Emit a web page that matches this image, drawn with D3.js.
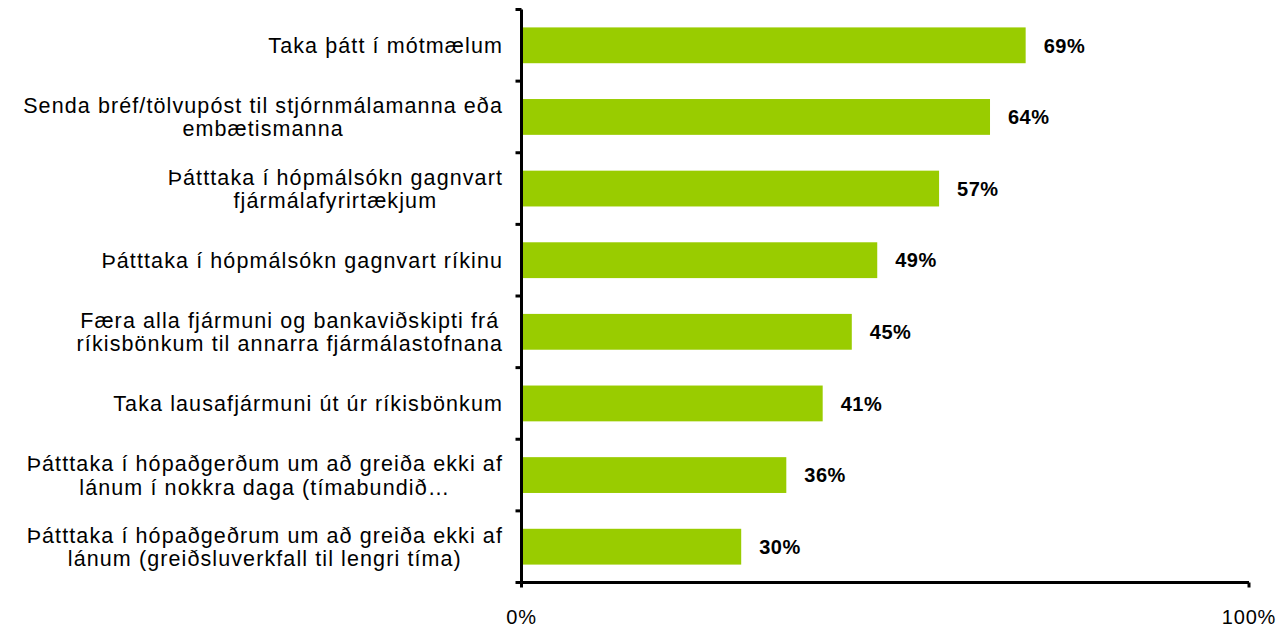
<!DOCTYPE html>
<html>
<head>
<meta charset="utf-8">
<script src="https://cdn.jsdelivr.net/npm/d3@7"></script>
<style>
body { margin: 0; background: #fff; }
text { font-family: "Liberation Sans", Arial, sans-serif; }
</style>
</head>
<body>
<div id="chart"></div>
<script>
// categories, each label split into its lines
var categories = [
    ["Taka þátt í mótmælum"],
    ["Senda bréf/tölvupóst til stjórnmálamanna eða", "embætismanna"],
    ["Þátttaka í hópmálsókn gagnvart", "fjármálafyrirtækjum"],
    ["Þátttaka í hópmálsókn gagnvart ríkinu"],
    ["Færa alla fjármuni og bankaviðskipti frá", "ríkisbönkum til annarra fjármálastofnana"],
    ["Taka lausafjármuni út úr ríkisbönkum"],
    ["Þátttaka í hópaðgerðum um að greiða ekki af", "lánum í nokkra daga (tímabundið…"],
    ["Þátttaka í hópaðgeðrum um að greiða ekki af", "lánum (greiðsluverkfall til lengri tíma)"]
];
var values = [0.693, 0.644, 0.574, 0.489, 0.454, 0.414, 0.364, 0.302];
var xTicks = [0, 1];
var xTickLabels = ["0%", "100%"];

var W = 1280, H = 628;
var mLeft = 521.5, mRight = 1249, mTop = 9.5, mBottom = 582.5;

var svg = d3.select("#chart").append("svg")
    .attr("width", W)
    .attr("height", H);

var x = d3.scaleLinear().domain([0, 1]).range([mLeft, mRight]);
var y = d3.scaleBand().domain(d3.range(categories.length)).range([mTop, mBottom]).paddingInner(0.5).paddingOuter(0.25);

// bars
svg.selectAll(".bar")
    .data(values)
    .enter()
    .append("rect")
    .attr("class", "bar")
    .attr("x", x(0) + 1.5)
    .attr("y", function(d, i){ return y(i); })
    .attr("width", function(d){ return x(d) - x(0) - 1.5; })
    .attr("height", y.bandwidth())
    .style("fill", "#99cc00");

// value labels
svg.selectAll(".val")
    .data(values)
    .enter()
    .append("text")
    .attr("class", "val")
    .attr("x", function(d){ return x(d) + 18; })
    .attr("y", function(d, i){ return y(i) + y.bandwidth() / 2; })
    .attr("dy", "0.36em")
    .style("font-size", "20px")
    .style("font-weight", "bold")
    .style("letter-spacing", "0.5px")
    .text(function(d){ return Math.round(d * 100) + "%"; });

// category labels: block right aligned, lines centred inside it
var labelRight = 503, lineH = 23.5;
categories.forEach(function(lines, i){
    var cy = y(i) + y.bandwidth() / 2;
    var g = svg.append("g").attr("class", "cat");
    var ts = lines.map(function(l, k){
        return g.append("text")
            .attr("y", cy + (k - (lines.length - 1) / 2) * lineH)
            .attr("dy", "0.36em")
            .attr("text-anchor", "middle")
            .style("font-size", "21.5px")
            .style("letter-spacing", "1.1px")
            .style("fill", "#000")
            .text(l);
    });
    var maxW = d3.max(ts, function(t){ return t.node().getComputedTextLength(); });
    ts.forEach(function(t){ t.attr("x", labelRight - maxW / 2); });
});

// y axis with ticks between categories
var bandStep = y.step();
svg.append("line")
    .attr("x1", mLeft).attr("x2", mLeft)
    .attr("y1", mTop).attr("y2", mBottom)
    .style("stroke", "#000").style("stroke-width", 3);
svg.selectAll(".ytick")
    .data(d3.range(categories.length + 1))
    .enter()
    .append("line")
    .attr("class", "ytick")
    .attr("x1", mLeft - 6).attr("x2", mLeft)
    .attr("y1", function(d){ return mTop + d * bandStep; })
    .attr("y2", function(d){ return mTop + d * bandStep; })
    .style("stroke", "#000").style("stroke-width", 3);

// x axis
svg.append("line")
    .attr("x1", mLeft).attr("x2", mRight)
    .attr("y1", mBottom).attr("y2", mBottom)
    .style("stroke", "#000").style("stroke-width", 3);
svg.selectAll(".xtick")
    .data(xTicks)
    .enter()
    .append("line")
    .attr("class", "xtick")
    .attr("x1", function(d){ return x(d); }).attr("x2", function(d){ return x(d); })
    .attr("y1", mBottom).attr("y2", mBottom + 5)
    .style("stroke", "#000").style("stroke-width", 3);
svg.selectAll(".xlab")
    .data(xTicks)
    .enter()
    .append("text")
    .attr("class", "xlab")
    .attr("x", function(d){ return x(d); })
    .attr("y", 617)
    .attr("dy", "0.36em")
    .attr("text-anchor", "middle")
    .style("font-size", "20px")
    .style("letter-spacing", "0.8px")
    .text(function(d, i){ return xTickLabels[i]; });
</script>
</body>
</html>
